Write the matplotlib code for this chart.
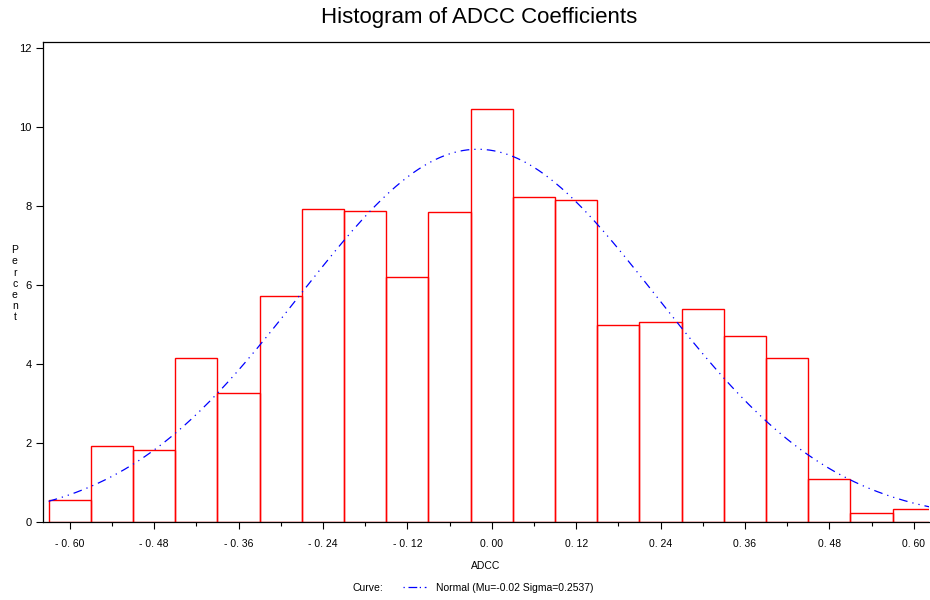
import numpy as np
import matplotlib.pyplot as plt
from matplotlib.ticker import MultipleLocator

plt.rcParams['font.family'] = ['Liberation Sans', 'DejaVu Sans']

# bin midpoints and percent per bin
mids = [-0.60, -0.54, -0.48, -0.42, -0.36, -0.30, -0.24, -0.18, -0.12, -0.06, 0.00,
        0.06, 0.12, 0.18, 0.24, 0.30, 0.36, 0.42, 0.48, 0.54, 0.60]
pct = [0.55, 1.92, 1.82, 4.15, 3.27, 5.72, 7.92, 7.87, 6.20, 7.85, 10.46,
       8.22, 8.14, 4.99, 5.06, 5.40, 4.72, 4.14, 1.10, 0.24, 0.32]
bin_w = 0.06

# fitted normal curve
mu = -0.02
sigma = 0.2537

xticks = [-0.60, -0.48, -0.36, -0.24, -0.12, 0.00, 0.12, 0.24, 0.36, 0.48, 0.60]
xlabels = ['- 0. 60', '- 0. 48', '- 0. 36', '- 0. 24', '- 0. 12', '0. 00',
           '0. 12', '0. 24', '0. 36', '0. 48', '0. 60']
yticks = [0, 2, 4, 6, 8, 10, 12]

fig = plt.figure(figsize=(9.3, 6), dpi=100)
ax = fig.add_axes([0.0462, 0.13, 0.953, 0.80])

ax.bar(mids, pct, width=bin_w, fill=False, edgecolor='red', linewidth=1.0)

xs = np.linspace(mids[0] - bin_w / 2, 0.64, 400)
ys = 100 * bin_w / (sigma * np.sqrt(2 * np.pi)) * np.exp(-0.5 * ((xs - mu) / sigma) ** 2)
ax.plot(xs, ys, color='blue', linewidth=0.9, linestyle=(0, (7, 4, 1, 4, 1, 4)))

ax.set_xlim(-0.638, 0.622)
ax.set_ylim(0, 12.15)
ax.set_xticks(xticks)
ax.set_xticklabels(xlabels, fontsize=7.5)
ax.xaxis.set_minor_locator(MultipleLocator(0.06))
ax.set_yticks(yticks)
ax.set_yticklabels([str(v) for v in yticks], fontsize=8)
ax.tick_params(axis='both', which='major', direction='out', length=5, width=0.8, pad=7)
ax.tick_params(axis='x', which='minor', direction='out', length=3, width=0.8)
ax.tick_params(axis='y', pad=3)
for s in ['left', 'top', 'bottom']:
    ax.spines[s].set_linewidth(0.9)
ax.spines['right'].set_visible(False)

ax.set_xlabel('ADCC', fontsize=7.5, labelpad=9)
fig.text(0.016, 0.527, 'P\ne\nr\nc\ne\nn\nt', fontsize=7.5, ha='center', va='center',
         linespacing=1.15)
fig.text(0.515, 0.97, 'Histogram of ADCC Coefficients', fontsize=16, ha='center', va='center')

fig.text(0.379, 0.02, 'Curve:', fontsize=7.5, ha='left', va='center')
fig.lines.append(plt.Line2D([0.433, 0.458], [0.022, 0.022], transform=fig.transFigure,
                            color='blue', linewidth=0.9, linestyle=(0, (1, 3, 7, 2))))
fig.text(0.469, 0.02, 'Normal (Mu=-0.02 Sigma=0.2537)', fontsize=7.5, ha='left', va='center')

fig.savefig('out.png', dpi=100)
